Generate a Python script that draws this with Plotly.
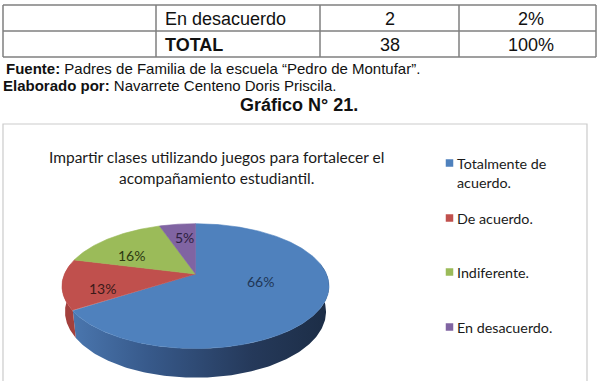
import numpy as np
import plotly.graph_objects as go

# ---------------- data ----------------
categories = ["Totalmente de acuerdo.", "De acuerdo.", "Indiferente.", "En desacuerdo."]
legend_lines = [["Totalmente de", "acuerdo."], ["De acuerdo."], ["Indiferente."], ["En desacuerdo."]]
counts = [25, 5, 6, 2]
slice_colors = ["#4f81bd", "#c0504d", "#9bbb59", "#8064a2"]
label_colors = ["#1f3656", "#3a1a19", "#2c3912", "#2c2040"]

table_labels = ["En desacuerdo", "TOTAL"]
table_freq = ["2", "38"]
table_pct = ["2%", "100%"]

fuente = "<b>Fuente:</b> Padres de Familia de la escuela \u201cPedro de Montufar\u201d."
elaborado = "<b>Elaborado por:</b> Navarrete Centeno Doris Priscila."
grafico = "<b>Gr\u00e1fico N\u00b0 21.</b>"
title_lines = ["Impartir clases utilizando juegos para fortalecer el", "acompa\u00f1amiento estudiantil."]

W, H = 597, 381

# ---------------- 3D pie projection ----------------
CX, CY = 195.5, 274.0   # projected pie centre (top face)
R = 131.0
ALPHA = np.radians(27.3)
DIST = 600.0
THICK = 29.0


def proj(theta_deg, r, y):
    t = np.radians(theta_deg)
    x = r * np.cos(t)
    z = r * np.sin(t)
    up = y * np.cos(ALPHA) + z * np.sin(ALPHA)
    depth = -y * np.sin(ALPHA) + z * np.cos(ALPHA)
    s = DIST / (DIST + depth)
    return CX + x * s, CY - up * s


total = sum(counts)
spans = [360.0 * c / total for c in counts]
starts = []
a = 90.0
for sp in spans:
    starts.append(a)
    a -= sp

fig = go.Figure()

# side walls (visible front half), drawn first
for i, (st, sp) in enumerate(zip(starts, spans)):
    t_hi, t_lo = st, st - sp
    for shift in (0, -360, 360):
        hi, lo = t_hi + shift, t_lo + shift
        a1, a2 = max(lo, -190.0), min(hi, 10.0)
        if a2 - a1 <= 0:
            continue
        th = np.linspace(a1, a2, 160)
        xt, yt = proj(th, R, 0.0)
        xb, yb = proj(th[::-1], R, -THICK)
        xs = np.concatenate([xt, xb, xt[:1]])
        ys = np.concatenate([yt, yb, yt[:1]])
        kw = dict(x=xs, y=ys, mode="lines", fill="toself",
                  line=dict(width=0.6, color="rgba(0,0,0,0)"),
                  hoverinfo="skip", showlegend=False)
        if i == 0:
            kw["fillgradient"] = dict(type="horizontal",
                                      colorscale=[[0, "#4a76ae"], [0.3, "#37598a"],
                                                  [0.7, "#25395a"], [1, "#1c2d46"]])
        else:
            kw["fillcolor"] = "#a3403d"
        fig.add_trace(go.Scatter(**kw))

# top faces
for i, (st, sp) in enumerate(zip(starts, spans)):
    th = np.linspace(st, st - sp, max(int(sp * 2), 20))
    xa, ya = proj(th, R, 0.0)
    xs = np.concatenate([[CX], xa, [CX]])
    ys = np.concatenate([[CY], ya, [CY]])
    fig.add_trace(go.Scatter(x=xs, y=ys, mode="lines", fill="toself",
                             fillcolor=slice_colors[i],
                             line=dict(width=0.6, color=slice_colors[i]),
                             hoverinfo="skip", showlegend=False))

# data labels
label_frac = [0.5, 0.7, 0.7, 0.7]
label_shift = [(5, 7), (0, -7), (-2, -8), (2, 0)]
for i, (st, sp) in enumerate(zip(starts, spans)):
    mid = st - sp / 2
    lx, ly = proj(mid, R * label_frac[i], 0.0)
    pct = round(100 * counts[i] / total)
    fig.add_annotation(x=float(lx), y=float(ly), xref="x", yref="y",
                       text=f"{pct}%", showarrow=False,
                       xshift=label_shift[i][0], yshift=label_shift[i][1],
                       font=dict(family="Lato", size=14, color=label_colors[i]),
                       xanchor="center", yanchor="middle")

shapes = []
# chart border
shapes.append(dict(type="rect", xref="x", yref="y", x0=3, x1=587, y0=124, y1=395,
                   line=dict(color="#cbcbcb", width=1.2), fillcolor="rgba(0,0,0,0)",
                   layer="below"))

# ---------------- table ----------------
col_x = [3, 156, 320, 459, 596]
row_y = [5, 31, 57]
for yv in row_y:
    shapes.append(dict(type="line", xref="x", yref="y", x0=col_x[0], x1=col_x[-1], y0=yv, y1=yv,
                       line=dict(color="#7f7f7f", width=1.5)))
for xv in col_x:
    shapes.append(dict(type="line", xref="x", yref="y", x0=xv, x1=xv, y0=row_y[0], y1=row_y[-1],
                       line=dict(color="#7f7f7f", width=1.5)))

for r in range(len(table_labels)):
    yc = (row_y[r] + row_y[r + 1]) / 2 + 0.5
    lab = f"<b>{table_labels[r]}</b>" if table_labels[r] == "TOTAL" else table_labels[r]
    fig.add_annotation(x=col_x[1] + 7, y=yc, text=lab, xanchor="left", yanchor="middle",
                       showarrow=False, font=dict(family="Liberation Sans", size=18, color="#111"))
    fig.add_annotation(x=(col_x[2] + col_x[3]) / 2, y=yc, text=table_freq[r], xanchor="center",
                       yanchor="middle", showarrow=False,
                       font=dict(family="Liberation Sans", size=18, color="#111"))
    fig.add_annotation(x=(col_x[3] + col_x[4]) / 2 + 3, y=yc, text=table_pct[r], xanchor="center",
                       yanchor="middle", showarrow=False,
                       font=dict(family="Liberation Sans", size=18, color="#111"))

fig.add_annotation(x=4, y=68, text=fuente, xanchor="left", yanchor="middle", showarrow=False,
                   font=dict(family="Liberation Sans", size=15, color="#111"))
fig.add_annotation(x=1, y=85, text=elaborado, xanchor="left", yanchor="middle", showarrow=False,
                   font=dict(family="Liberation Sans", size=15, color="#111"))
fig.add_annotation(x=299, y=105, text=grafico, xanchor="center", yanchor="middle", showarrow=False,
                   font=dict(family="Liberation Sans", size=18, color="#111"))

# chart title
for k, line in enumerate(title_lines):
    fig.add_annotation(x=216, y=157 + 21 * k, text=line, xanchor="center", yanchor="middle",
                       showarrow=False, font=dict(family="Lato", size=15.5, color="#1a1a1a"))

# legend (manual, evenly pitched like the original)
leg_y = [163, 218, 272, 327]
fig.add_trace(go.Scatter(x=[449.5] * 4, y=leg_y, mode="markers",
                         marker=dict(symbol="square", size=7.5, color=slice_colors, line=dict(width=0)),
                         hoverinfo="skip", showlegend=False))
for i, lines in enumerate(legend_lines):
    for k, t in enumerate(lines):
        fig.add_annotation(x=455, y=leg_y[i] + 19 * k, text=t, xanchor="left", yanchor="middle",
                           showarrow=False, font=dict(family="Lato", size=14.3, color="#1a1a1a"))

fig.update_layout(
    width=W, height=H, autosize=False,
    margin=dict(l=0, r=0, t=0, b=0, pad=0),
    paper_bgcolor="white", plot_bgcolor="white",
    xaxis=dict(range=[0, W], visible=False, fixedrange=True),
    yaxis=dict(range=[H, 0], visible=False, fixedrange=True),
    shapes=shapes,
    showlegend=False,
)

fig.write_html("out.html", config={"displayModeBar": False, "staticPlot": True})
